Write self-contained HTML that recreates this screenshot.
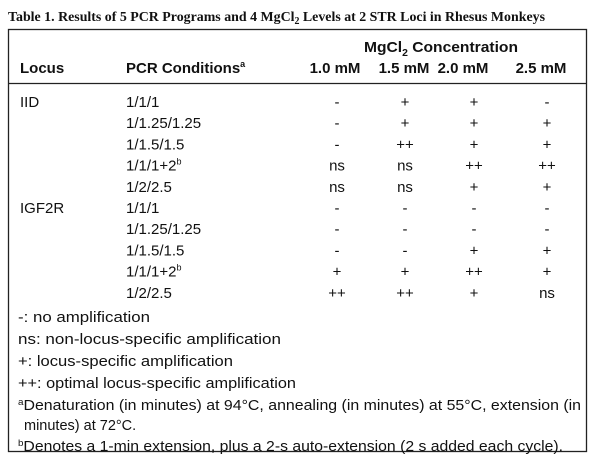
<!DOCTYPE html>
<html><head><meta charset="utf-8"><style>
html,body{margin:0;padding:0;background:#fff;}
svg{display:block;}
text{font-family:"Liberation Sans",Arial,sans-serif;fill:#111;}
.t{font-family:"Liberation Serif",serif;font-weight:bold;font-size:14px;}
.h{font-weight:bold;font-size:15px;}
.b{font-size:15px;}
.l{font-size:14.5px;}
</style></head><body>
<svg width="601" height="462" viewBox="0 0 601 462">
<text class="t" x="8" y="21" textLength="537" lengthAdjust="spacingAndGlyphs">Table 1. Results of 5 PCR Programs and 4 MgCl<tspan font-size="10" dy="3">2</tspan><tspan dy="-3"> Levels at 2 STR Loci in Rhesus Monkeys</tspan></text>
<rect x="8.5" y="29.5" width="578" height="422" fill="none" stroke="#222" stroke-width="1.3"/>
<line x1="8" y1="83.5" x2="587" y2="83.5" stroke="#222" stroke-width="1.2"/>
<text class="h" x="364" y="52" textLength="154" lengthAdjust="spacingAndGlyphs">MgCl<tspan font-size="10" dy="4">2</tspan><tspan dy="-4"> Concentration</tspan></text>
<text class="h" x="20" y="73">Locus</text>
<text class="h" x="126" y="73">PCR Conditions<tspan font-size="9" dy="-6">a</tspan></text>
<g id="colhdr"></g>
<g id="body"></g>
<g>
<text class="l" x="18" y="322" textLength="132" lengthAdjust="spacingAndGlyphs">-: no amplification</text>
<text class="l" x="18" y="344" textLength="263" lengthAdjust="spacingAndGlyphs">ns: non-locus-specific amplification</text>
<text class="l" x="18" y="366" textLength="215" lengthAdjust="spacingAndGlyphs">+: locus-specific amplification</text>
<text class="l" x="18" y="388" textLength="278" lengthAdjust="spacingAndGlyphs">++: optimal locus-specific amplification</text>
<text class="l" x="18" y="410" textLength="563" lengthAdjust="spacingAndGlyphs"><tspan font-size="9" dy="-5">a</tspan><tspan dy="5">Denaturation (in minutes) at 94°C, annealing (in minutes) at 55°C, extension (in</tspan></text>
<text class="l" x="24" y="430">minutes) at 72°C.</text>
<text class="l" x="18" y="451" textLength="545" lengthAdjust="spacingAndGlyphs"><tspan font-size="9" dy="-5">b</tspan><tspan dy="5">Denotes a 1-min extension, plus a 2-s auto-extension (2 s added each cycle).</tspan></text>
</g>
</svg>
<script>
const concentrations=["1.0 mM","1.5 mM","2.0 mM","2.5 mM"];
const loci=["IID","","","","","IGF2R","","","",""];
const conditions=["1/1/1","1/1.25/1.25","1/1.5/1.5","1/1/1+2","1/2/2.5","1/1/1","1/1.25/1.25","1/1.5/1.5","1/1/1+2","1/2/2.5"];
const condNote=["","","","b","","","","","b",""];
const results=[
["-","+","+","-"],
["-","+","+","+"],
["-","++","+","+"],
["ns","ns","++","++"],
["ns","ns","+","+"],
["-","-","-","-"],
["-","-","-","-"],
["-","-","+","+"],
["+","+","++","+"],
["++","++","+","ns"]];
const NS="http://www.w3.org/2000/svg";
const hdrX=[335,404,463,541];
const colX=[337,405,474,547];
const rowY=i=>102+i*21.2+5;
const hg=document.getElementById('colhdr');
concentrations.forEach((c,j)=>{
const t=document.createElementNS(NS,'text');
t.setAttribute('class','h');t.setAttribute('x',hdrX[j]);t.setAttribute('y',73);t.setAttribute('text-anchor','middle');


t.textContent=c;hg.appendChild(t);});
const bg=document.getElementById('body');
conditions.forEach((c,i)=>{
const y=rowY(i);
if(loci[i]){const t=document.createElementNS(NS,'text');t.setAttribute('class','b');t.setAttribute('x',20);t.setAttribute('y',y);


t.textContent=loci[i];bg.appendChild(t);}
const t=document.createElementNS(NS,'text');t.setAttribute('class','b');t.setAttribute('x',126);t.setAttribute('y',y);


t.textContent=c;
if(condNote[i]){const s=document.createElementNS(NS,'tspan');s.setAttribute('font-size','9');s.setAttribute('dy','-6');s.textContent=condNote[i];t.appendChild(s);}
bg.appendChild(t);
results[i].forEach((r,j)=>{const u=document.createElementNS(NS,'text');u.setAttribute('class','b');u.setAttribute('x',colX[j]);u.setAttribute('y',y);u.setAttribute('text-anchor','middle');


u.textContent=r;bg.appendChild(u);});
});
</script>
</body></html>
